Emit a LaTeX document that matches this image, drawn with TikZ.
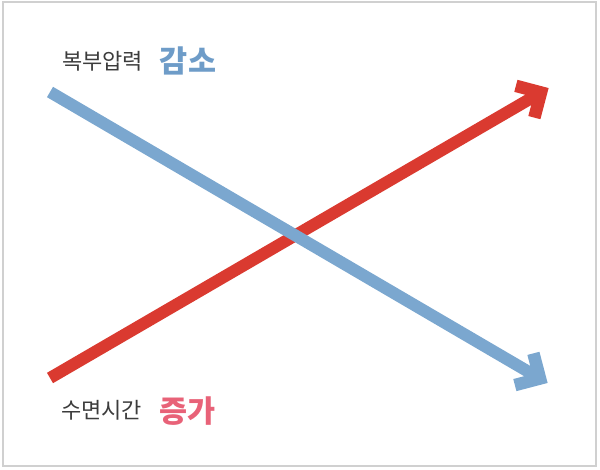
\documentclass[tikz,border=0pt]{standalone}
\usepackage{fontspec}
\newfontfamily\krfont{Noto Sans CJK KR}
\usetikzlibrary{calc}
\definecolor{arrred}{RGB}{218,58,48}
\definecolor{arrblue}{RGB}{123,167,207}
\definecolor{txtred}{RGB}{232,98,120}
\definecolor{txtblue}{RGB}{110,156,200}
\definecolor{txtgray}{RGB}{60,60,60}
\definecolor{framegray}{RGB}{208,208,208}
\tikzset{
  shaft/.style={line width=12pt, line cap=butt},
  chevron/.style={line width=12.5pt, line cap=butt, line join=miter},
  lbl/.style={inner sep=0pt, anchor=center, text=txtgray, font=\krfont\fontsize{22}{26}\selectfont},
  keyw/.style={inner sep=0pt, anchor=center, font=\krfont\bfseries\fontsize{30.5}{34}\selectfont},
}
\begin{document}
\begin{tikzpicture}[x=1pt,y=-1pt]
\useasboundingbox (0,0) rectangle (600,470);
\draw[framegray, line width=2pt] (2.5,2.5) rectangle (595.5,465.5);
% red arrow
\coordinate (rs) at (50,378);
\coordinate (re) at (541,92.5);
\draw[shaft, arrred] (rs) -- (re);
\draw[chevron, arrred] ($(re)!26pt!45:(rs)$) -- (re) -- ($(re)!26pt!-45:(rs)$);
% blue arrow
\coordinate (bs) at (50,92);
\coordinate (be) at (540,378.5);
\draw[shaft, arrblue] (bs) -- (be);
\draw[chevron, arrblue] ($(be)!26pt!45:(bs)$) -- (be) -- ($(be)!26pt!-45:(bs)$);
% labels
\node[lbl] (t1) at (102.5,61.5) {복부압력};
\node[keyw, text=txtblue] (k1) at (188,60.5) {감소};
\node[lbl] (t2) at (101.5,410.5) {수면시간};
\node[keyw, text=txtred] (k2) at (187.5,411.5) {증가};
\end{tikzpicture}
\end{document}
